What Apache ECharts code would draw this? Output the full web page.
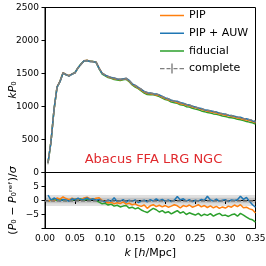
<!DOCTYPE html>
<html><head><meta charset="utf-8">
<script src="https://cdn.jsdelivr.net/npm/echarts@6/dist/echarts.min.js"></script>
<style>html,body{margin:0;padding:0;background:#fff}#c{width:266px;height:266px}</style>
</head><body><div id="c"></div>
<script>
const kVals = [0.005,0.010,0.015,0.020,0.025,0.030,0.035,0.040,0.045,0.050,
0.055,0.060,0.065,0.070,0.075,0.080,0.085,0.090,0.095,0.100,
0.105,0.110,0.115,0.120,0.125,0.130,0.135,0.140,0.145,0.150,
0.155,0.160,0.165,0.170,0.175,0.180,0.185,0.190,0.195,0.200,
0.205,0.210,0.215,0.220,0.225,0.230,0.235,0.240,0.245,0.250,
0.255,0.260,0.265,0.270,0.275,0.280,0.285,0.290,0.295,0.300,
0.305,0.310,0.315,0.320,0.325,0.330,0.335,0.340,0.345,0.350];

const completeKP0 = [145,470,950,1290,1380,1505,1480,1465,1490,1510,
1585,1640,1690,1695,1680,1678,1668,1575,1505,1478,
1455,1440,1428,1418,1412,1418,1428,1395,1345,1318,
1292,1262,1228,1212,1203,1196,1188,1176,1152,1132,
1116,1097,1083,1071,1057,1046,1032,1022,1006,992,
978,967,952,942,933,925,914,902,891,882,
871,862,851,838,827,817,808,801,792,778];

const completeErr = [22,20,18,17,16,15,15,14,14,13,
13,13,12,12,12,11,11,11,11,10,
10,10,10,10,9,9,9,9,9,9,
9,8,8,8,8,8,8,8,8,8,
7,7,7,7,7,7,7,7,7,7,
7,6,6,6,6,6,6,6,6,6,
6,6,6,6,6,5,5,5,5,5];

const pipKP0 = [144,472,948,1298,1384,1515,1485,1467,1495,1513,
1589,1641,1695,1702,1684,1680,1673,1582,1505,1475,
1448,1435,1419,1412,1404,1414,1418,1387,1336,1309,
1280,1248,1218,1196,1192,1186,1175,1165,1139,1121,
1103,1085,1074,1060,1042,1035,1019,1012,993,980,
969,954,941,928,921,910,902,887,877,866,
859,848,841,825,817,803,794,783,773,752];

const auwKP0 = [150,468,955,1293,1378,1508,1482,1462,1492,1512,
1588,1642,1692,1698,1682,1680,1669,1578,1503,1474,
1456,1438,1432,1416,1410,1420,1425,1396,1343,1320,
1289,1261,1229,1209,1205,1194,1191,1175,1154,1130,
1117,1094,1084,1080,1059,1050,1031,1024,1003,993,
976,970,952,944,935,923,916,899,892,884,
868,863,851,840,836,820,815,799,782,763];

const fidKP0 = [143,471,952,1290,1383,1508,1479,1467,1490,1515,
1587,1647,1691,1698,1684,1683,1668,1569,1492,1466,
1438,1427,1408,1402,1393,1405,1412,1375,1327,1295,
1272,1235,1202,1182,1179,1178,1166,1151,1129,1105,
1093,1067,1058,1049,1026,1020,997,993,974,960,
950,933,922,909,902,888,882,869,856,848,
835,830,822,805,800,787,774,763,754,733];

const pipRes = [-0.3,0.2,-0.2,0.9,0.5,1.3,0.7,0.3,0.8,0.4,
0.6,0.2,0.9,1.2,0.6,0.4,0.8,1.0,0.0,-0.4,
-0.9,-0.6,-1.2,-0.8,-1.1,-0.5,-1.3,-1.0,-1.5,-1.2,
-1.8,-2.1,-1.6,-2.8,-1.9,-1.5,-2.2,-1.7,-2.3,-1.8,
-2.4,-2.0,-1.5,-1.9,-2.6,-1.8,-2.2,-1.6,-2.4,-2.0,
-1.5,-2.3,-1.8,-2.5,-1.9,-2.6,-2.1,-2.8,-2.3,-2.7,
-2.0,-2.4,-1.6,-2.2,-1.5,-2.6,-2.4,-3.0,-3.3,-4.5];

const auwRes = [1.9,0.1,0.9,0.3,-0.2,0.4,0.2,-0.3,0.6,0.3,
0.8,0.2,0.5,0.9,0.3,0.6,0.1,0.4,-0.2,-0.5,
0.2,-0.3,1.0,-0.4,-0.2,0.3,-0.6,0.1,-0.3,0.2,
-0.7,-0.2,0.1,-0.5,0.3,-0.2,0.6,-0.1,0.4,-0.3,
0.2,-0.4,0.1,1.4,0.2,0.6,-0.2,0.3,-0.4,0.1,
-0.2,0.4,0.0,1.5,0.2,-0.2,0.5,-0.3,0.1,0.3,
-0.4,0.2,0.0,0.3,1.5,0.4,1.1,-0.3,-1.5,-2.4];

const fidRes = [-0.2,0.1,0.3,0.0,0.4,0.2,-0.1,0.3,0.0,0.5,
0.2,0.6,0.1,0.4,0.3,0.5,0.0,-0.6,-1.2,-1.0,
-1.6,-1.3,-2.0,-1.7,-2.3,-2.0,-1.8,-2.7,-2.4,-3.0,
-2.6,-3.4,-3.9,-4.3,-3.5,-2.8,-3.3,-4.1,-3.6,-4.4,
-4.0,-4.8,-4.2,-3.6,-4.5,-4.0,-5.0,-4.4,-4.8,-5.2,
-4.6,-5.5,-4.9,-5.3,-4.7,-5.6,-5.0,-4.6,-5.4,-5.2,
-5.7,-5.1,-4.8,-5.6,-4.6,-5.2,-5.9,-6.6,-6.9,-7.7];

const topTicks = [0,500,1000,1500,2000,2500];
const resTicks = [-5,0,5];
const xTicks = [0,0.05,0.1,0.15,0.2,0.25,0.3,0.35];

const C_PIP = '#ff7f0e', C_AUW = '#1f77b4', C_FID = '#2ca02c', C_CMP = '#7f7f7f';
const FONT = 'DejaVu Sans';
const LINE_ICON = 'path://M0,0h0.01v0.01h-0.01z M0,4.25h24v1.5h-24z M23.99,10h0.01v0.01h-0.01z';
const CMP_ICON = 'path://M0,4.3h4.5v1.4h-4.5z M6.5,4.3h4v1.4h-4z M11.3,0h1.4v10h-1.4z M13.5,4.3h4v1.4h-4z M19.5,4.3h4.5v1.4h-4.5z';

function pairs(ys){ return kVals.map((k,i)=>[k, ys[i]]); }

const chart = echarts.init(document.getElementById('c'), null, {renderer:'canvas'});

const axisLineStyle = {show:true, lineStyle:{color:'#000', width:1}};
const tickStyle = {show:true, length:3.5, lineStyle:{color:'#000', width:1}};
const italic = {fontStyle:'italic', fontSize:11, fontFamily:FONT, color:'#000'};

chart.setOption({
  animation:false,
  backgroundColor:'#fff',
  textStyle:{fontFamily:FONT},
  grid:[
    {left:45, top:7.5, width:210.5, height:165, show:true, borderColor:'#000', borderWidth:1, backgroundColor:'transparent', containLabel:false, outerBoundsMode:'none'},
    {left:45, top:172.5, width:210.5, height:56, show:true, borderColor:'#000', borderWidth:1, backgroundColor:'transparent', containLabel:false, outerBoundsMode:'none'}
  ],
  legend:{
    orient:'vertical', left:160, top:10, itemWidth:24, itemHeight:10, itemGap:6.7, padding:0,
    textStyle:{fontSize:11, color:'#000', fontFamily:FONT},
    itemStyle:{borderWidth:0},
    data:[
      {name:'PIP', icon:LINE_ICON},
      {name:'PIP + AUW', icon:LINE_ICON},
      {name:'fiducial', icon:LINE_ICON},
      {name:'complete', icon:CMP_ICON}
    ]
  },
  xAxis:[
    {type:'value', gridIndex:0, min:0, max:0.35, interval:0.05,
     axisLine:axisLineStyle, axisTick:{show:false}, axisLabel:{show:false}, splitLine:{show:false}},
    {type:'value', gridIndex:1, min:0, max:0.35, interval:0.05,
     axisLine:axisLineStyle, axisTick:tickStyle, splitLine:{show:false},
     axisLabel:{fontSize:9, color:'#000', margin:6, fontFamily:FONT,
       formatter:v=>{ const t = xTicks.find(x=>Math.abs(x-v)<1e-9); return t===undefined?'':t.toFixed(2);} },
     name:'{i|k} [{i|h}/Mpc]', nameLocation:'middle', nameGap:19, nameMoveOverlap:false,
     nameTextStyle:{fontSize:11, color:'#000', fontFamily:FONT, rich:{i:italic}}
    }
  ],
  yAxis:[
    {type:'value', gridIndex:0, min:0, max:2500, interval:500,
     axisLine:axisLineStyle, axisTick:tickStyle, splitLine:{show:false},
     axisLabel:{fontSize:9, color:'#000', margin:6, fontFamily:FONT,
       formatter:v=>topTicks.includes(v)?String(v):''},
     name:'{i|kP}₀', nameLocation:'middle', nameRotate:90, nameGap:26, nameMoveOverlap:false,
     nameTextStyle:{fontSize:11, color:'#000', fontFamily:FONT, rich:{i:italic}}
    },
    {type:'value', gridIndex:1, min:-10, max:10, interval:5,
     axisLine:axisLineStyle, axisTick:tickStyle, splitLine:{show:false},
     axisLabel:{fontSize:9, color:'#000', margin:6, fontFamily:FONT,
       formatter:v=>resTicks.includes(v)?(v<0?'\u2212'+(-v):String(v)):''},
     name:'({i|P}₀ − {i|P}₀ʳᵉᶠ)/{i|σ}', nameLocation:'middle', nameRotate:90, nameGap:26, nameMoveOverlap:false,
     nameTextStyle:{fontSize:11, color:'#000', fontFamily:FONT, rich:{i:italic}}
    }
  ],
  graphic:[
    {type:'text', x:153.5, y:160, z:10,
     style:{text:'Abacus FFA LRG NGC', fill:'#e02a2e', font:'13px "DejaVu Sans"', textAlign:'center', textVerticalAlign:'middle'}}
  ],
  series:[
    {name:'PIP', type:'line', xAxisIndex:0, yAxisIndex:0, data:pairs(pipKP0), symbol:'none',
     itemStyle:{color:C_PIP}, lineStyle:{color:C_PIP, width:1.5}, z:2},
    {name:'PIP + AUW', type:'line', xAxisIndex:0, yAxisIndex:0, data:pairs(auwKP0), symbol:'none',
     itemStyle:{color:C_AUW}, lineStyle:{color:C_AUW, width:1.5}, z:3},
    {name:'fiducial', type:'line', xAxisIndex:0, yAxisIndex:0, data:pairs(fidKP0), symbol:'none',
     itemStyle:{color:C_FID}, lineStyle:{color:C_FID, width:1.5}, z:1},
    {name:'complete', type:'line', xAxisIndex:0, yAxisIndex:0, data:pairs(completeKP0), symbol:'none',
     itemStyle:{color:C_CMP}, lineStyle:{color:C_CMP, width:1.5, type:[4,2]}, z:4},
    {name:'completeErr', type:'custom', xAxisIndex:0, yAxisIndex:0, z:4,
     data:kVals.map((k,i)=>[k, completeKP0[i]-completeErr[i], completeKP0[i]+completeErr[i]]),
     renderItem:(params, api)=>{
       const a = api.coord([api.value(0), api.value(1)]);
       const b = api.coord([api.value(0), api.value(2)]);
       return {type:'line', shape:{x1:a[0], y1:a[1], x2:b[0], y2:b[1]}, style:{stroke:C_CMP, lineWidth:1}};
     }},
    {name:'PIP', type:'line', xAxisIndex:1, yAxisIndex:1, data:pairs(pipRes), symbol:'none',
     itemStyle:{color:C_PIP}, lineStyle:{color:C_PIP, width:1.5}, z:3,
     markArea:{silent:true, itemStyle:{color:'rgba(0,0,0,0.12)'},
       data:[[{yAxis:-2},{yAxis:2}],[{yAxis:-1},{yAxis:1}]]},
     markLine:{silent:true, symbol:'none', label:{show:false},
       lineStyle:{color:C_CMP, type:[4,2], width:1.5}, data:[{yAxis:0}]}},
    {name:'PIP + AUW', type:'line', xAxisIndex:1, yAxisIndex:1, data:pairs(auwRes), symbol:'none',
     itemStyle:{color:C_AUW}, lineStyle:{color:C_AUW, width:1.5}, z:4},
    {name:'fiducial', type:'line', xAxisIndex:1, yAxisIndex:1, data:pairs(fidRes), symbol:'none',
     itemStyle:{color:C_FID}, lineStyle:{color:C_FID, width:1.5}, z:2}
  ]
});
</script>
</body></html>
